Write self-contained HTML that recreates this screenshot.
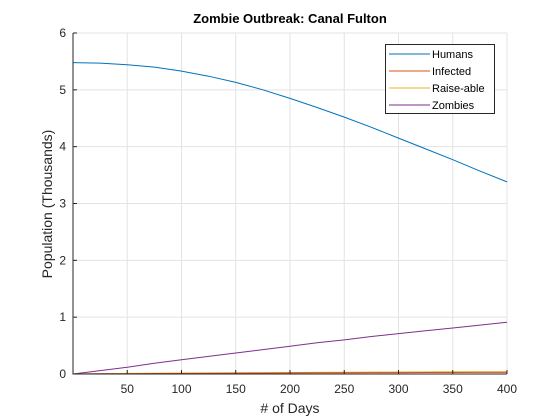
<!DOCTYPE html>
<html><head><meta charset="utf-8"><style>
body{margin:0;background:#fff;}
svg{display:block;font-family:"Liberation Sans",Arial,sans-serif;}
</style></head><body>
<svg id="chart" width="560" height="420" viewBox="0 0 560 420">
<rect width="560" height="420" fill="#fff"/>
<g id="grid"></g>
<g id="series"></g>
<g id="axes"></g>
<text x="290" y="23" text-anchor="middle" font-size="13" font-weight="bold" fill="#000">Zombie Outbreak: Canal Fulton</text>
<text x="290" y="413" text-anchor="middle" font-size="14" fill="#262626"># of Days</text>
<text transform="translate(52,204) rotate(-90)" text-anchor="middle" font-size="14" fill="#262626">Population (Thousands)</text>
<g>
<rect x="385.5" y="44.5" width="109" height="69" fill="#fff" stroke="#262626" stroke-width="1"/>
<g><line x1="389" y1="54" x2="430" y2="54" stroke="#0072BD"/><text x="432" y="58" font-size="11">Humans</text></g>
<g><line x1="389" y1="71" x2="430" y2="71" stroke="#D95319"/><text x="432" y="75" font-size="11">Infected</text></g>
<g><line x1="389" y1="88" x2="430" y2="88" stroke="#EDB120"/><text x="432" y="92" font-size="11">Raise-able</text></g>
<g><line x1="389" y1="105" x2="430" y2="105" stroke="#7E2F8E"/><text x="432" y="109" font-size="11">Zombies</text></g>
</g>
</svg>
<script>
const days = [0,25,50,75,100,125,150,175,200,225,250,275,300,325,350,375,400];
const humans = [5.48,5.47,5.44,5.40,5.33,5.24,5.13,5.00,4.85,4.69,4.52,4.34,4.15,3.96,3.77,3.57,3.38];
const infected = [0,0.003,0.005,0.008,0.01,0.012,0.015,0.017,0.02,0.021,0.022,0.024,0.025,0.026,0.027,0.028,0.028];
const raiseable = [0,0.005,0.01,0.012,0.015,0.018,0.02,0.023,0.025,0.028,0.03,0.033,0.035,0.037,0.038,0.039,0.04];
const zombies = [0,0.06,0.12,0.19,0.25,0.31,0.37,0.43,0.49,0.55,0.6,0.66,0.71,0.76,0.81,0.86,0.91];
const xTicks = [50,100,150,200,250,300,350,400];
const yTicks = [0,1,2,3,4,5,6];
const X0=73,X1=507,Y0=374,Y1=33;
const xs = v => X0 + v/400*(X1-X0);
const ys = v => Y0 - v/6*(Y0-Y1);
const NS="http://www.w3.org/2000/svg";
function mk(tag, attrs, parent){const e=document.createElementNS(NS,tag);for(const k in attrs)e.setAttribute(k,attrs[k]);parent.appendChild(e);return e;}
const grid=document.getElementById('grid'), axes=document.getElementById('axes'), ser=document.getElementById('series');
xTicks.forEach(t=>{
  const g=mk('line',{x1:xs(t),x2:xs(t),y1:Y1,y2:Y0,stroke:'#e3e3e3'},grid);
  
  
  const tk=mk('line',{x1:xs(t),x2:xs(t),y1:Y0,y2:Y0-4,stroke:'#262626'},axes);
  
  
  const l=mk('text',{x:xs(t),y:Y0+19,'text-anchor':'middle','font-size':'12',fill:'#262626'},axes);
  l.textContent=t;
  
  
});
yTicks.forEach(t=>{
  const g=mk('line',{x1:X0,x2:X1,y1:ys(t),y2:ys(t),stroke:'#e3e3e3'},grid);
  
  
  const tk=mk('line',{x1:X0,x2:X0+4,y1:ys(t),y2:ys(t),stroke:'#262626'},axes);
  
  
  const l=mk('text',{x:X0-7,y:ys(t)+4,'text-anchor':'end','font-size':'12',fill:'#262626'},axes);
  l.textContent=t;
  
  
});
const ax=mk('path',{d:`M${X0},${Y1}V${Y0}H${X1}`,fill:'none',stroke:'#262626'},axes);


function line(vals,color,name){
  const d=vals.map((v,i)=>(i?'L':'M')+xs(days[i]).toFixed(1)+','+ys(v).toFixed(1)).join('');
  const p=mk('path',{d:d,fill:'none',stroke:color,'stroke-width':'1'},ser);
  
  
}
line(humans,'#0072BD','humans-line');
line(zombies,'#7E2F8E','zombies-line');
line(raiseable,'#EDB120','raise-able-line');
line(infected,'#D95319','infected-line');
</script>
</body></html>
